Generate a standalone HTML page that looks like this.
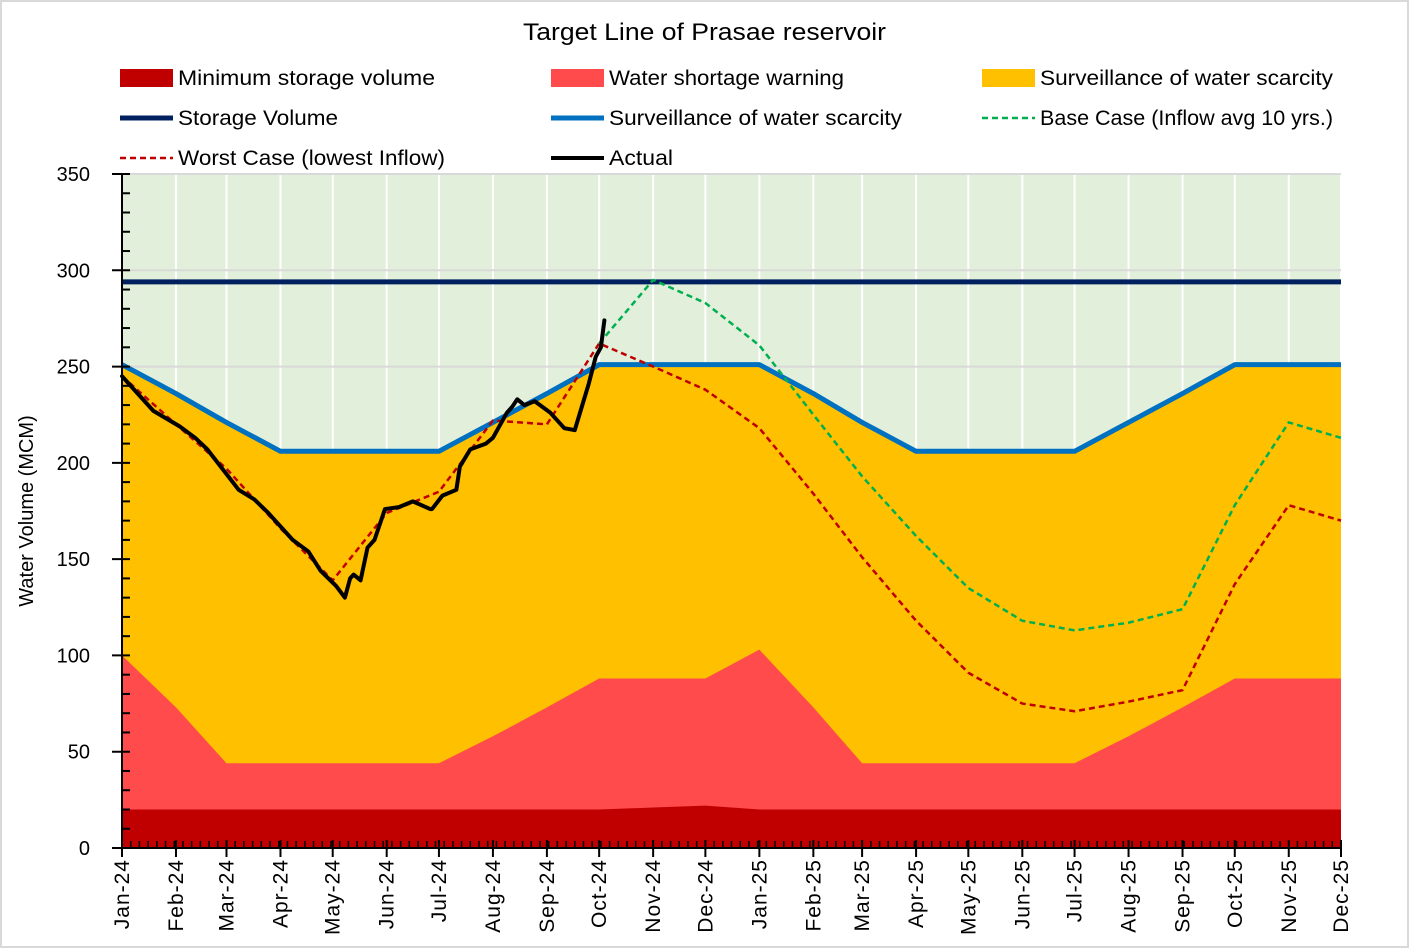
<!DOCTYPE html>
<html><head><meta charset="utf-8"><style>
html,body{margin:0;padding:0;background:#fff}
svg{display:block;font-family:"Liberation Sans",sans-serif}
</style></head><body>
<svg id="chart" width="1413" height="951" viewBox="0 0 1413 951">
<rect x="1" y="1" width="1407" height="946" fill="#fff" stroke="#d9d9d9" stroke-width="2"/>
<text x="523" y="40" textLength="363" lengthAdjust="spacingAndGlyphs" font-size="24" fill="#000">Target Line of Prasae reservoir</text>
<g id="legend" font-size="21" fill="#000">
<g><rect x="120" y="69" width="53" height="18" fill="#c00000"/><text x="178" y="85" textLength="257" lengthAdjust="spacingAndGlyphs">Minimum storage volume</text></g>
<g><rect x="551" y="69" width="53" height="18" fill="#ff4b4b"/><text x="609" y="85" textLength="235" lengthAdjust="spacingAndGlyphs">Water shortage warning</text></g>
<g><rect x="982" y="69" width="53" height="18" fill="#ffc000"/><text x="1040" y="85" textLength="293" lengthAdjust="spacingAndGlyphs">Surveillance of water scarcity</text></g>
<g><line x1="120" y1="118" x2="173" y2="118" stroke="#002060" stroke-width="5"/><text x="178" y="125" textLength="160" lengthAdjust="spacingAndGlyphs">Storage Volume</text></g>
<g><line x1="551" y1="118" x2="604" y2="118" stroke="#0070c0" stroke-width="5"/><text x="609" y="125" textLength="293" lengthAdjust="spacingAndGlyphs">Surveillance of water scarcity</text></g>
<g><line x1="982" y1="118" x2="1035" y2="118" stroke="#00b050" stroke-width="2.5" stroke-dasharray="6,4"/><text x="1040" y="125" textLength="293" lengthAdjust="spacingAndGlyphs">Base Case (Inflow avg 10 yrs.)</text></g>
<g><line x1="120" y1="158" x2="173" y2="158" stroke="#c00000" stroke-width="2.5" stroke-dasharray="6,4"/><text x="178" y="165" textLength="267" lengthAdjust="spacingAndGlyphs">Worst Case (lowest Inflow)</text></g>
<g><line x1="551" y1="158" x2="604" y2="158" stroke="#000" stroke-width="4"/><text x="609" y="165" textLength="64" lengthAdjust="spacingAndGlyphs">Actual</text></g>
</g>
<g id="plot"></g>
</svg>
<script>
const months = ['Jan-24','Feb-24','Mar-24','Apr-24','May-24','Jun-24','Jul-24','Aug-24','Sep-24','Oct-24','Nov-24','Dec-24','Jan-25','Feb-25','Mar-25','Apr-25','May-25','Jun-25','Jul-25','Aug-25','Sep-25','Oct-25','Nov-25','Dec-25'];
const storageVolume = [294,294,294,294,294,294,294,294,294,294,294,294,294,294,294,294,294,294,294,294,294,294,294,294];
const surveillance = [251,236,221,206,206,206,206,221,236,251,251,251,251,236,221,206,206,206,206,221,236,251,251,251];
const shortage = [100,73,44,44,44,44,44,58,73,88,88,88,103,73,44,44,44,44,44,58,73,88,88,88];
const minimum = [20,20,20,20,20,20,20,20,20,20,21,22,20,20,20,20,20,20,20,20,20,20,20,20];
const baseCase = [null,null,null,null,null,null,null,null,null,262,295,283,261,225,193,162,135,118,113,117,124,178,221,213];
const worstCase = [245,220,197,166,139,174,185,222,220,262,250,238,218,184,151,118,91,75,71,76,82,137,178,170];
const actualDays = [0,18,33,42,49,67,76,84,98,107,114,123,128,131,133,137,141,145,151,159,167,177,178,184,192,194,200,209,213,221,224,227,231,237,246,254,260,264,268,272,275,277];
const actualVals = [245,227,219,213,207,186,181,174,160,154,144,136,130,140,142,139,156,160,176,177,180,176,176,183,186,198,207,210,213,226,229,233,230,232,226,218,217,229,241,255,260,274,278];
const yTicks = [0,50,100,150,200,250,300,350];

const NS='http://www.w3.org/2000/svg';
const plot=document.getElementById('plot');
const X0=122,X1=1341,Y0=848,Y1=174,YMAX=350;
const start=Date.UTC(2024,0,1), end=Date.UTC(2025,11,1);
const totalDays=(end-start)/864e5;
function monthDay(i){return (Date.UTC(2024+Math.floor(i/12),i%12,1)-start)/864e5;}
function xs(d){return X0+(X1-X0)*d/totalDays;}
function ys(v){return Y0-(Y0-Y1)*v/YMAX;}
function mk(tag,attrs,parent){const e=document.createElementNS(NS,tag);for(const k in attrs)e.setAttribute(k,attrs[k]);(parent||plot).appendChild(e);return e;}

let bg=mk('rect',{x:X0,y:Y1,width:X1-X0,height:Y0-Y1,fill:'#e2efda'});


months.forEach((m,i)=>{let g=mk('line',{x1:xs(monthDay(i)),x2:xs(monthDay(i)),y1:Y1,y2:Y0,stroke:'#fff','stroke-width':2});

});
yTicks.forEach(v=>{let g=mk('line',{x1:X0,x2:X1,y1:ys(v),y2:ys(v),stroke:'#d9d9d9','stroke-width':2});

});

function area(top,bottom,fill,name){
  let p='';months.forEach((m,i)=>{p+=(i?'L':'M')+xs(monthDay(i))+','+ys(top[i]);});
  for(let i=months.length-1;i>=0;i--)p+='L'+xs(monthDay(i))+','+ys(bottom?bottom[i]:0);
  let e=mk('path',{d:p+'Z',fill:fill});
  
  
}
area(surveillance,null,'#ffc000','surveillance-area');
area(shortage,null,'#ff4b4b','shortage-area');
area(minimum,null,'#c00000','minimum-area');

function line(vals,stroke,w,dash,name){
  let p='',first=true;vals.forEach((v,i)=>{if(v==null)return;p+=(first?'M':'L')+xs(monthDay(i))+','+ys(v);first=false;});
  let e=mk('path',{d:p,fill:'none',stroke:stroke,'stroke-width':w,'stroke-dasharray':dash||'none','stroke-linejoin':'round'});
  
  
}
line(storageVolume,'#002060',5,null,'storage-volume-line');
line(surveillance,'#0070c0',5,null,'surveillance-line');
line(baseCase,'#00b050',2.5,'6,4','base-case-line');
line(worstCase,'#c00000',2.5,'6,4','worst-case-line');
let ap='';actualDays.forEach((d,i)=>{ap+=(i?'L':'M')+xs(d)+','+ys(actualVals[i]);});
let act=mk('path',{d:ap,fill:'none',stroke:'#000','stroke-width':4,'stroke-linejoin':'round','stroke-linecap':'round'});



let ya=mk('line',{x1:X0,x2:X0,y1:Y1,y2:Y0+1,stroke:'#000','stroke-width':2});


let xa=mk('line',{x1:X0-1,x2:X1,y1:Y0,y2:Y0,stroke:'#000','stroke-width':2});


for(let v=0;v<=YMAX;v+=10){let major=v%50===0;
  let t=mk('line',{x1:major?X0-10:X0,x2:X0+8,y1:ys(v),y2:ys(v),stroke:'#000','stroke-width':2});
  
  }
yTicks.forEach(v=>{let t=mk('text',{x:90,y:ys(v)+7,'text-anchor':'end','font-size':20,fill:'#000'});t.textContent=v;
  
  });
for(let d=0;d<=totalDays;d+=5){let t=mk('line',{x1:xs(d),x2:xs(d),y1:Y0-7,y2:Y0,stroke:'#000','stroke-width':1.5});
  
  }
months.forEach((m,i)=>{let x=xs(monthDay(i));
  let t=mk('line',{x1:x,x2:x,y1:Y0-8,y2:Y0+9,stroke:'#000','stroke-width':2});
  
  
  let l=mk('text',{x:0,y:0,'text-anchor':'end','font-size':21,fill:'#000','letter-spacing':1,transform:`translate(${x+7},${Y0+11}) rotate(-90)`});l.textContent=m;
  
  });
let yt=mk('text',{x:0,y:0,'text-anchor':'middle','font-size':20,fill:'#000',transform:`translate(33,${(Y0+Y1)/2}) rotate(-90)`});yt.textContent='Water Volume (MCM)';


</script>
</body></html>
